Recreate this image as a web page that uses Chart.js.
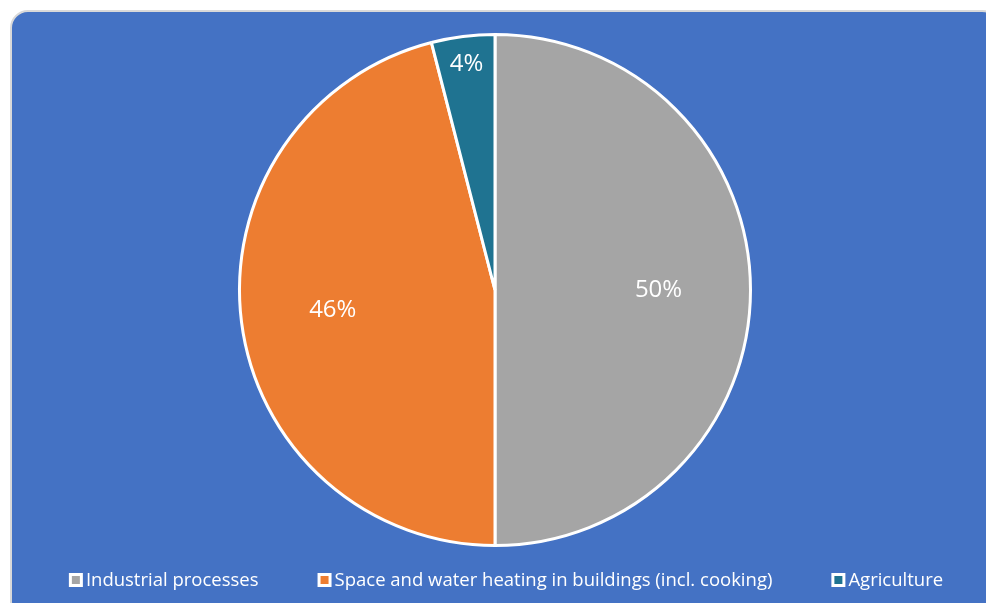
<!DOCTYPE html>
<html>
<head>
<meta charset="utf-8">
<script src="https://cdn.jsdelivr.net/npm/chart.js@4"></script>
<style>
  html, body { margin: 0; padding: 0; background: #ffffff; overflow: hidden; }
  .panel {
    position: absolute; left: 10px; top: 10px; width: 990px; height: 610px;
    background: #4472c4; border: 2px solid #d9d9d9; border-radius: 18px; box-sizing: border-box;
  }
  #wrap { position: absolute; left: 0; top: 0; width: 986px; height: 603px; }
</style>
</head>
<body>
<div class="panel"></div>
<div id="wrap"><canvas id="pie"></canvas></div>
<script>
// ─── DATA ────────────────────────────────────────────────────────────────────
const categories = ['Industrial processes', 'Space and water heating in buildings (incl. cooking)', 'Agriculture'];
const shares = [50, 46, 4];
const sliceColors = ['#a5a5a5', '#ed7d31', '#1f7391'];

const FONT = "'Open Sans', sans-serif";

// ─── LABEL PLUGIN ────────────────────────────────────────────────────────────
const pctLabels = {
  id: 'pctLabels',
  afterDatasetsDraw(chart) {
    const ctx = chart.ctx;
    const meta = chart.getDatasetMeta(0);
    const total = shares.reduce((a, b) => a + b, 0);
    ctx.save();
    ctx.fillStyle = '#ffffff';
    ctx.font = `24px ${FONT}`;
    ctx.textAlign = 'center';
    ctx.textBaseline = 'middle';
    meta.data.forEach((arc, i) => {
      const p = arc.getProps(['x', 'y', 'startAngle', 'endAngle', 'outerRadius']);
      const mid = (p.startAngle + p.endAngle) / 2;
      // small slices get pushed out toward the rim, like the original
      const k = shares[i] / total < 0.1 ? 0.89 : 0.64;
      const x = p.x + Math.cos(mid) * p.outerRadius * k;
      const y = p.y + Math.sin(mid) * p.outerRadius * k;
      ctx.fillText(Math.round(shares[i] / total * 100) + '%', x, y);
    });
    ctx.restore();
  }
};

// ─── LEGEND (drawn by hand, the spacing is wider than Chart.js gives) ───────
const wideLegend = {
  id: 'wideLegend',
  afterDraw(chart) {
    const ctx = chart.ctx;
    const box = 14, gapText = 3, gapItem = 59, cy = 580, cx = 506;
    ctx.save();
    ctx.font = `18.5px ${FONT}`;
    ctx.textBaseline = 'middle';
    const widths = categories.map(c => box + gapText + ctx.measureText(c).width);
    const total = widths.reduce((a, b) => a + b, 0) + gapItem * (categories.length - 1);
    let x = cx - total / 2;
    categories.forEach((c, i) => {
      ctx.fillStyle = '#ffffff';
      ctx.fillRect(x, cy - box / 2, box, box);
      ctx.fillStyle = sliceColors[i];
      ctx.fillRect(x + 3, cy - box / 2 + 3, box - 6, box - 6);
      ctx.fillStyle = '#ffffff';
      ctx.fillText(c, x + box + gapText, cy + 1);
      x += widths[i] + gapItem;
    });
    ctx.restore();
  }
};

// ─── CHART ───────────────────────────────────────────────────────────────────
function draw() {
  new Chart(document.getElementById('pie').getContext('2d'), {
    type: 'pie',
    data: {
      labels: categories,
      datasets: [{
        data: shares,
        backgroundColor: sliceColors,
        borderColor: '#ffffff',
        borderWidth: 3,
      }]
    },
    options: {
      responsive: true, maintainAspectRatio: false,
      animation: false,
      layout: { padding: { top: 33, bottom: 56, left: 4, right: 0 } },
      plugins: {
        tooltip: { enabled: false },
        legend: { display: false },
      }
    },
    plugins: [pctLabels, wideLegend]
  });
}

Promise.all([
  document.fonts.load(`24px ${FONT}`, '50%'),
  document.fonts.load(`18.5px ${FONT}`, 'Agriculture'),
]).then(draw, draw);
</script>
</body>
</html>
